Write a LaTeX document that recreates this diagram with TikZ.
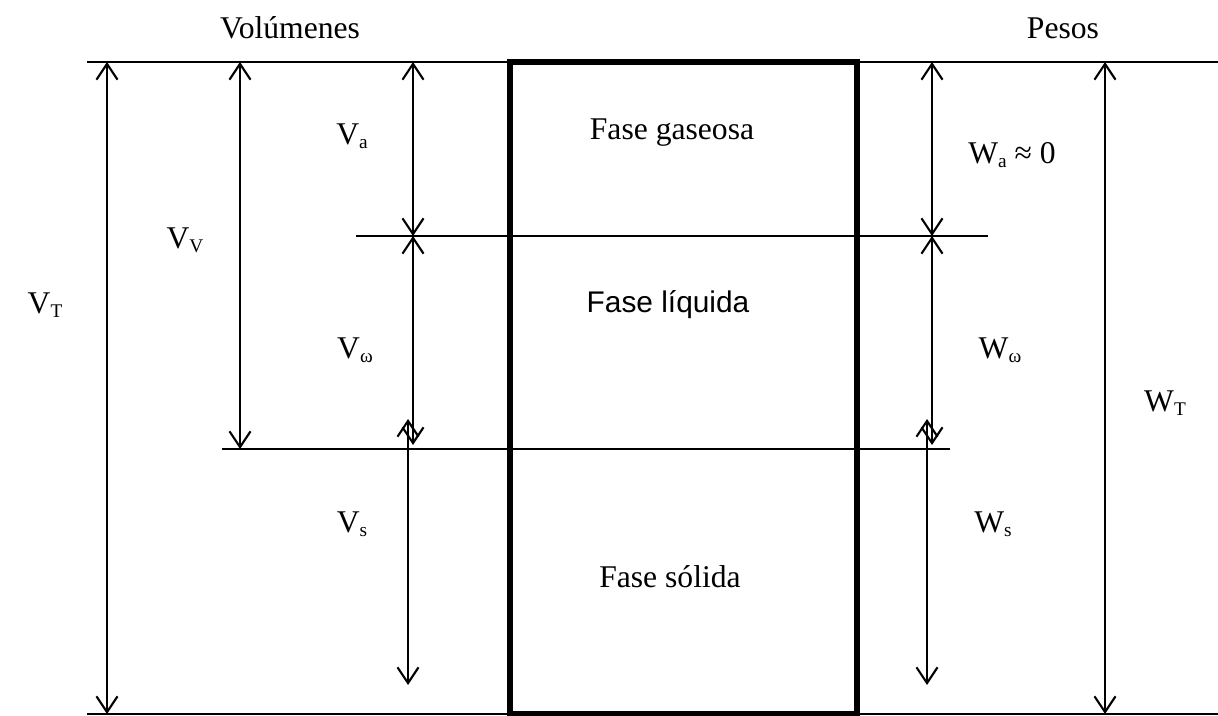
\documentclass[tikz,border=0pt]{standalone}
\usepackage{fontspec}
\setmainfont{Liberation Serif}
\newfontfamily\arialfont{Liberation Sans}
\usetikzlibrary{arrows.meta}
\newcommand{\sbs}[1]{\raisebox{-0.3ex}{\fontsize{11}{11}\selectfont #1}}
\tikzset{
  lbl/.style={font=\fontsize{18}{20}\selectfont, inner sep=0pt},
  dim/.style={line width=1.2pt, {Straight Barb[length=9pt,width=12pt]}-{Straight Barb[length=9pt,width=12pt]}},
  lvl/.style={line width=1.2pt},
}
\begin{document}
\begin{tikzpicture}[x=0.02cm, y=-0.02cm]
  \useasboundingbox (0,0) rectangle (1218,716);

  % levels
  \coordinate (tl) at (87,62);   \coordinate (tr) at (1218,62);
  \coordinate (bl) at (87,714);  \coordinate (br) at (1218,714);
  \coordinate (al) at (356,236); \coordinate (ar) at (988,236);
  \coordinate (wl) at (222,449); \coordinate (wr) at (950,449);
  \draw[lvl] (tl) -- (tr);
  \draw[lvl] (bl) -- (br);
  \draw[lvl] (al) -- (ar);
  \draw[lvl] (wl) -- (wr);

  % sample
  \draw[line width=3.8pt] (510,62) rectangle (857,714);

  % arrow ends
  \coordinate (vt1) at (107,62);  \coordinate (vt2) at (107,714);
  \coordinate (vv1) at (240,62);  \coordinate (vv2) at (240,449);
  \coordinate (va1) at (413,62);  \coordinate (va2) at (413,236);
  \coordinate (vw1) at (413,236); \coordinate (vw2) at (413,445);
  \coordinate (vs1) at (408,419); \coordinate (vs2) at (408,685);
  \coordinate (wa1) at (932,62);  \coordinate (wa2) at (932,236);
  \coordinate (ww1) at (932,236); \coordinate (ww2) at (932,445);
  \coordinate (ws1) at (927,419); \coordinate (ws2) at (927,685);
  \coordinate (wt1) at (1105,62); \coordinate (wt2) at (1105,714);

  \draw[dim] (vt1) -- (vt2);
  \draw[dim] (vv1) -- (vv2);
  \draw[dim] (va1) -- (va2);
  \draw[dim] (vw1) -- (vw2);
  \draw[dim] (vs1) -- (vs2);
  \draw[dim] (wa1) -- (wa2);
  \draw[dim] (ww1) -- (ww2);
  \draw[dim] (ws1) -- (ws2);
  \draw[dim] (wt1) -- (wt2);

  % labels
  \node[lbl] (vol) at (290,28) {Volúmenes};
  \node[lbl] (pes) at (1063,28) {Pesos};
  \node[lbl] (vT) at (45,305) {V\sbs{T}};
  \node[lbl] (vV) at (185,240) {V\sbs{V}};
  \node[lbl] (va) at (352,136) {V\sbs{a}};
  \node[lbl] (vw) at (355,350) {V\sbs{ω}};
  \node[lbl] (vs) at (352,524) {V\sbs{s}};
  \node[lbl] (gas) at (672,133) {Fase gaseosa};
  \node[lbl, font=\arialfont\fontsize{17}{20}\selectfont] (liq) at (668,305) {Fase líquida};
  \node[lbl] (sol) at (670,577) {Fase sólida};
  \node[lbl] (wa) at (1012,155) {W\sbs{a} ≈ 0};
  \node[lbl] (ww) at (1000,350) {W\sbs{ω}};
  \node[lbl] (ws) at (993,524) {W\sbs{s}};
  \node[lbl] (wT) at (1165,403) {W\sbs{T}};
\end{tikzpicture}
\end{document}
